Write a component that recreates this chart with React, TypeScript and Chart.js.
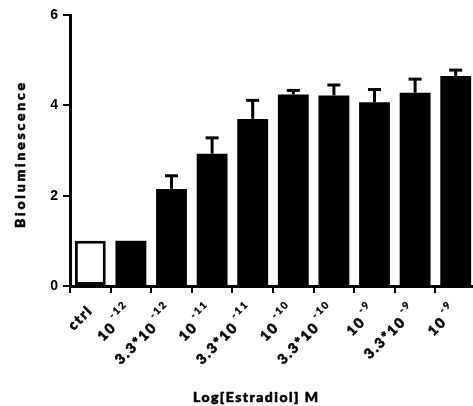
import React, { useEffect, useRef } from "react";
import { Chart, registerables } from "chart.js";

Chart.register(...registerables);

const labelBase = ["ctrl", "10", "3.3*10", "10", "3.3*10", "10", "3.3*10", "10", "3.3*10", "10"];
const labelExp = ["", "-12", "-12", "-11", "-11", "-10", "-10", "-9", "-9", "-9"];
const means = [1.0, 1.0, 2.15, 2.93, 3.7, 4.24, 4.22, 4.07, 4.28, 4.65];
const errors = [0, 0, 0.29, 0.35, 0.41, 0.09, 0.23, 0.28, 0.3, 0.13];
const yTicks = [0, 2, 4, 6];
const yTitle = "Bioluminescence";
const xTitle = "Log[Estradiol] M";

const LABEL_FONT = "Lato, 'Open Sans', sans-serif";

function spacedText(ctx: any, text: string, font: string, target: number) {
  ctx.font = font;
  ctx.letterSpacing = "0px";
  const w = ctx.measureText(text).width;
  const sp = Math.max(0, (target - w) / Math.max(1, text.length - 1));
  ctx.letterSpacing = sp + "px";
  return ctx.measureText(text).width;
}

function heavyText(ctx: any, text: string, x: number, y: number) {
  ctx.fillText(text, x, y);
  ctx.strokeText(text, x, y);
}

const errorBarPlugin = {
  id: "errorBars",
  afterDatasetsDraw(chart: any) {
    const ctx = chart.ctx;
    const xs = chart.scales.x;
    const ys = chart.scales.y;
    ctx.save();
    ctx.strokeStyle = "#000";
    ctx.lineWidth = 3;
    ctx.lineCap = "butt";
    means.forEach((m, i) => {
      const e = errors[i];
      if (!e) return;
      const x = xs.getPixelForValue(i);
      const y0 = ys.getPixelForValue(m);
      const y1 = ys.getPixelForValue(m + e);
      ctx.beginPath();
      ctx.moveTo(x, y0);
      ctx.lineTo(x, y1);
      ctx.stroke();
      ctx.beginPath();
      ctx.moveTo(x - 6.5, y1);
      ctx.lineTo(x + 6.5, y1);
      ctx.stroke();
    });
    ctx.restore();
  },
};

const labelPlugin = {
  id: "customLabels",
  afterDraw(chart: any) {
    const ctx = chart.ctx;
    const xs = chart.scales.x;
    const area = chart.chartArea;
    ctx.save();
    ctx.fillStyle = "#000";
    ctx.strokeStyle = "#000";
    ctx.lineWidth = 0.6;
    ctx.lineJoin = "round";
    labelBase.forEach((base, i) => {
      const exp = labelExp[i];
      const tx = xs.getPixelForValue(i);
      ctx.save();
      ctx.translate(tx, area.bottom + 22);
      ctx.rotate(-Math.PI / 4);
      ctx.textBaseline = "middle";
      ctx.textAlign = "left";
      (ctx as any).letterSpacing = "1.8px";
      ctx.font = `900 10px ${LABEL_FONT}`;
      const wExp = exp ? ctx.measureText(exp).width + 3 : 0;
      ctx.font = `900 14px ${LABEL_FONT}`;
      const wBase = ctx.measureText(base).width;
      heavyText(ctx, base, -(wBase + wExp), 0);
      if (exp) {
        ctx.font = `900 10px ${LABEL_FONT}`;
        ctx.lineWidth = 0.3;
        heavyText(ctx, exp, -wExp + 3, -8);
      }
      ctx.restore();
    });
    // x title
    ctx.save();
    ctx.textAlign = "left";
    ctx.textBaseline = "middle";
    spacedText(ctx, xTitle, `900 14px ${LABEL_FONT}`, 125);
    heavyText(ctx, xTitle, 193, 397);
    ctx.restore();
    // y title
    ctx.save();
    ctx.translate(20, 228);
    ctx.rotate(-Math.PI / 2);
    ctx.textAlign = "left";
    ctx.textBaseline = "middle";
    spacedText(ctx, yTitle, `900 14px ${LABEL_FONT}`, 145);
    heavyText(ctx, yTitle, 0, 0);
    ctx.restore();
    ctx.restore();
  },
};

export default function App() {
  const ref = useRef<HTMLCanvasElement | null>(null);
  useEffect(() => {
    if (!ref.current) return;
    const chart = new Chart(ref.current, {
      type: "bar",
      data: {
        labels: labelBase.map((b, i) => b + (labelExp[i] ? "^" + labelExp[i] : "")),
        datasets: [
          {
            data: means,
            backgroundColor: means.map((_, i) => (i === 0 ? "#ffffff" : "#000000")),
            borderColor: "#000000",
            borderWidth: means.map((_, i) => (i === 0 ? 3 : 0)),
            borderSkipped: false,
            categoryPercentage: 1,
            barPercentage: 0.76,
          },
        ],
      },
      options: {
        animation: false,
        responsive: false,
        maintainAspectRatio: false,
        layout: { padding: { left: 0, right: 4, top: 15, bottom: 0 } },
        plugins: { legend: { display: false }, tooltip: { enabled: false }, title: { display: false } },
        scales: {
          x: {
            grid: { drawOnChartArea: false, tickLength: 7, lineWidth: 2, color: "#000" },
            border: { display: true, width: 3, color: "#000" },
            ticks: { display: false },
            afterFit: (s: any) => {
              s.height = 120;
            },
          },
          y: {
            min: 0,
            max: 6,
            afterBuildTicks: (s: any) => {
              s.ticks = yTicks.map((v) => ({ value: v }));
            },
            grid: { drawOnChartArea: false, tickLength: 7, lineWidth: 2, color: "#000" },
            border: { display: true, width: 3, color: "#000" },
            ticks: {
              color: "#000",
              padding: 5,
              font: { family: "'Liberation Sans', Arial, sans-serif", size: 14, weight: "bold" },
            },
            afterFit: (s: any) => {
              s.width = 70;
            },
          },
        },
      },
      plugins: [errorBarPlugin, labelPlugin],
    } as any);
    return () => chart.destroy();
  }, []);
  return (
    <div style={{ position: "fixed", left: 0, top: 0, width: 480, height: 406, background: "#fff" }}>
      <canvas ref={ref} width={480} height={406} style={{ width: 480, height: 406, display: "block" }} />
    </div>
  );
}
